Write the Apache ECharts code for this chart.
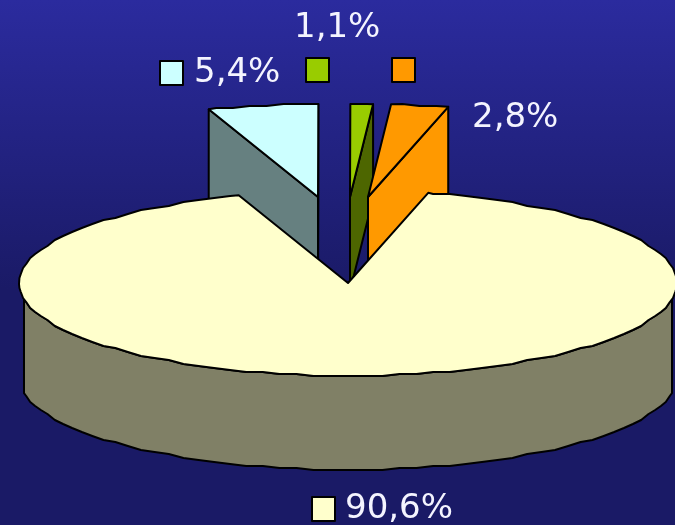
<!DOCTYPE html>
<html><head><meta charset="utf-8">
<style>html,body{margin:0;padding:0;background:#1a1a66}#c{width:675px;height:525px}</style>
<script src="https://cdn.jsdelivr.net/npm/echarts@6/dist/echarts.min.js"></script>
</head><body><div id="c"></div>
<script>
const categories = ["a", "b", "c", "d"];
const values = [5.4, 1.1, 2.8, 90.6];
const labels = ["5,4%", "1,1%", "2,8%", "90,6%"];
const topColors = ["#CCFFFF", "#99CC00", "#FF9900", "#FFFFCC"];
const sideColors = ["#668080", "#4D6600", "#FF9900", "#808066"];

const pie = {cx: 348, cy: 283, rx: 329, ry: 93, depth: 94, startAngle: -19.4, wallFrom: 100, wallTo: 260, stepDeg: 3, gridY: 2};
const explode = [[-30, -86], [2, -86], [20, -86], [0, 0]];
const swatches = [[160, 61], [306, 58], [392, 58], [312, 497]];
const labelPos = [[194, 73], [294, 28], [472, 118], [345, 509]];
const font = '34px "DejaVu Sans ExtraLight", "DejaVu Sans"';

const total = values.reduce((a, b) => a + b, 0);
const rad = d => d * Math.PI / 180;
function pt(a, o, dy) {
  return [pie.cx + o[0] + pie.rx * Math.sin(rad(a)), pie.cy + o[1] + (dy || 0) - pie.ry * Math.cos(rad(a))];
}
function arc(a0, a1, o, dy) {
  const lo = Math.min(a0, a1), hi = Math.max(a0, a1), out = [pt(lo, o, dy)];
  for (let k = Math.ceil(lo / pie.stepDeg + 0.01); k * pie.stepDeg < hi - 0.01; k++) {
    const p = pt(k * pie.stepDeg, o, dy);
    p[1] = Math.round(p[1] / pie.gridY) * pie.gridY;
    out.push(p);
  }
  out.push(pt(hi, o, dy));
  return a0 <= a1 ? out : out.reverse();
}
const line = {stroke: "#000", lineWidth: 2, lineJoin: "round"};
function poly(points, fill) {
  return {type: "polygon", shape: {points}, style: Object.assign({fill}, line)};
}
function renderItem(params, api) {
  const i = params.dataIndex;
  let before = 0;
  for (let k = 0; k < i; k++) before += values[k];
  const a0 = pie.startAngle + before / total * 360;
  const a1 = a0 + api.value(0) / total * 360;
  const o = explode[i];
  const apex = [pie.cx + o[0], pie.cy + o[1]];
  const apexLow = [apex[0], apex[1] + pie.depth];
  const kids = [];
  const face = a => {
    const p = pt(a, o);
    kids.push(poly([apex, p, [p[0], p[1] + pie.depth], apexLow], sideColors[i]));
  };
  if (Math.sin(rad(a0)) < -1e-6) face(a0);
  if (Math.sin(rad(a1)) > 1e-6) face(a1);
  const w0 = Math.max(a0, pie.wallFrom), w1 = Math.min(a1, pie.wallTo);
  if (w1 > w0) {
    kids.push(poly(arc(w0, w1, o).concat(arc(w1, w0, o, pie.depth)), sideColors[i]));
  }
  kids.push(poly([apex].concat(arc(a0, a1, o)), topColors[i]));
  const s = swatches[i];
  kids.push({type: "rect", shape: {x: s[0], y: s[1], width: 23, height: 24}, style: Object.assign({fill: topColors[i]}, line)});
  kids.push({type: "text", style: {text: labels[i], x: labelPos[i][0], y: labelPos[i][1], fill: "#F4F4FF", font, verticalAlign: "middle", align: "left"}});
  return {type: "group", children: kids};
}
const chart = echarts.init(document.getElementById("c"), null, {width: 675, height: 525});
chart.setOption({
  animation: false,
  backgroundColor: {type: "linear", x: 0, y: 0, x2: 0, y2: 1, colorStops: [
    {offset: 0, color: "#2B2B9E"}, {offset: 0.55, color: "#1A1A66"}, {offset: 1, color: "#1A1A66"}]},
  series: [{type: "custom", coordinateSystem: "none", renderItem, silent: true, clip: false,
    data: values.map((v, i) => ({name: categories[i], value: [v]}))}]
});
</script></body></html>
